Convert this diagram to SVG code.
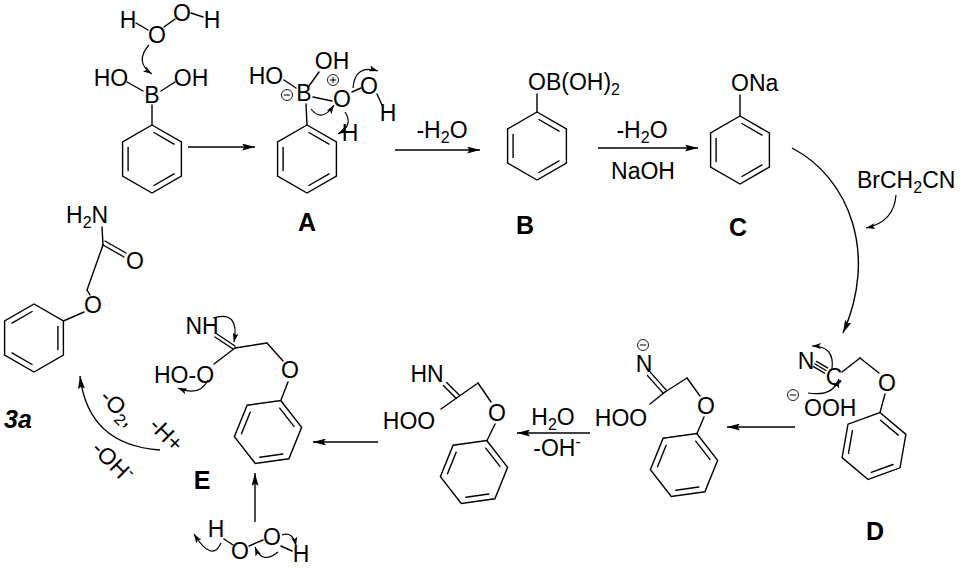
<svg xmlns="http://www.w3.org/2000/svg" xmlns:xlink="http://www.w3.org/1999/xlink" width="961" height="568" viewBox="0 0 961 568">
<style>
text{font-family:"Liberation Sans",Arial,sans-serif;fill:#000}
.a{font-size:23px;text-anchor:middle}
.s{font-size:23px}
.m{font-size:23px;text-anchor:middle}
.lb{font-size:25px;font-weight:bold;text-anchor:middle}
.b{stroke:#000;stroke-width:1.4;fill:none;stroke-linecap:round}
.ar{stroke:#000;stroke-width:1.4;fill:none;marker-end:url(#ah)}
.cr{stroke:#000;stroke-width:1.2;fill:none;marker-end:url(#ch)}
.chg{fill:#fff;stroke:#000;stroke-width:0.9}
</style>
<defs>
<marker id="ah" markerUnits="userSpaceOnUse" markerWidth="13" markerHeight="7" refX="13" refY="3.5" orient="auto" viewBox="0 0 13 7">
<path d="M0,0 L13,3.5 L0,7 L2.5,3.5 Z" fill="#000"/>
</marker>
<marker id="ch" markerUnits="userSpaceOnUse" markerWidth="9" markerHeight="6" refX="9" refY="3" orient="auto" viewBox="0 0 9 6">
<path d="M0,0 L9,3 L0,6 L2,3 Z" fill="#000"/>
</marker>
<g id="bz" class="b">
<polygon points="0,-34 29.4,-17 29.4,17 0,34 -29.4,17 -29.4,-17"/>
<line x1="1.9" y1="-26.5" x2="22" y2="-14.9"/>
<line x1="22" y1="14.9" x2="1.9" y2="26.5"/>
<line x1="-23.9" y1="11.6" x2="-23.9" y2="-11.6"/>
</g>
<g id="neg"><circle r="5.5" class="chg"/><line x1="-3.2" y1="0" x2="3.2" y2="0" stroke="#000" stroke-width="1"/></g>
<g id="pos"><circle r="5.5" class="chg"/><line x1="-3.2" y1="0" x2="3.2" y2="0" stroke="#000" stroke-width="1"/><line x1="0" y1="-3.2" x2="0" y2="3.2" stroke="#000" stroke-width="1"/></g>
</defs>

<rect width="961" height="568" fill="#fff"/>

<g id="phenylboronic">
<text class="a" x="128" y="28">H</text>
<text class="a" x="157" y="43">O</text>
<text class="a" x="182" y="21">O</text>
<text class="a" x="212" y="28">H</text>
<line class="b" x1="136" y1="23" x2="148" y2="30"/>
<line class="b" x1="164" y1="27" x2="175" y2="19"/>
<line class="b" x1="191" y1="13" x2="203" y2="17"/>
<path class="cr" d="M149,45 Q134,62 152,74"/>
<text class="a" x="111" y="86">HO</text>
<text class="a" x="152" y="103">B</text>
<text class="a" x="191" y="86">OH</text>
<line class="b" x1="127" y1="82" x2="143" y2="91"/>
<line class="b" x1="161" y1="91" x2="175" y2="82"/>
<line class="b" x1="152" y1="105" x2="152" y2="125"/>
<use xlink:href="#bz" transform="translate(152,159)"/>
</g>

<g id="A">
<text class="a" x="266" y="84">HO</text>
<text class="a" x="332" y="69">OH</text>
<text class="a" x="304" y="101">B</text>
<use xlink:href="#neg" transform="translate(287,95)"/>
<use xlink:href="#pos" transform="translate(333,80)"/>
<text class="a" x="342" y="107">O</text>
<text class="a" x="369" y="94">O</text>
<text class="a" x="388" y="121">H</text>
<text class="a" x="350" y="141">H</text>
<line class="b" x1="284" y1="80" x2="296" y2="88"/>
<line class="b" x1="309" y1="86" x2="319" y2="72"/>
<line class="b" x1="313" y1="97" x2="332" y2="101"/>
<line class="b" x1="352" y1="92" x2="361" y2="88"/>
<line class="b" x1="377" y1="94" x2="382" y2="105"/>
<line class="b" x1="306" y1="104" x2="307" y2="125"/>
<use xlink:href="#bz" transform="translate(307,159)"/>
<path class="cr" d="M311,109 Q322,123 334,105"/>
<path class="cr" d="M353,88 Q355,64 378,71"/>
<path class="cr" d="M345,112 Q354,125 338,134"/>
<text class="lb" x="307" y="231">A</text>
</g>

<g id="B">
<text class="s" x="528" y="90">OB(OH)<tspan font-size="16" dy="5">2</tspan></text>
<line class="b" x1="537" y1="94" x2="537" y2="112"/>
<use xlink:href="#bz" transform="translate(537,146)"/>
<text class="lb" x="525" y="234">B</text>
</g>

<g id="C">
<text class="s" x="731" y="91">ONa</text>
<line class="b" x1="740" y1="95" x2="740" y2="116"/>
<use xlink:href="#bz" transform="translate(740,150)"/>
<text class="lb" x="738" y="236">C</text>
</g>

<g id="D">
<text class="a" x="806" y="369">N</text>
<text class="a" x="834" y="385">C</text>
<text class="a" x="887" y="391">O</text>
<text class="s" x="804" y="416">OOH</text>
<use xlink:href="#neg" transform="translate(793,395)"/>
<line class="b" x1="815" y1="364" x2="826" y2="370.5"/>
<line class="b" x1="813.5" y1="366.6" x2="824.5" y2="373.1"/>
<line class="b" x1="816.5" y1="361.4" x2="827.5" y2="367.9"/>
<line class="b" x1="842" y1="372" x2="860" y2="358"/>
<line class="b" x1="860" y1="358" x2="879" y2="373"/>
<line class="b" x1="885" y1="394" x2="880" y2="412.5"/>
<use xlink:href="#bz" transform="translate(874,446) rotate(10)"/>
<path class="cr" d="M832,369 Q835,346 812,346"/>
<path class="cr" d="M808,393 Q833,397 839,379"/>
<text class="lb" x="875" y="540">D</text>
</g>

<g id="I2">
<use xlink:href="#neg" transform="translate(643,345)"/>
<text class="a" x="644" y="372">N</text>
<text class="a" x="706" y="414">O</text>
<text class="a" x="621" y="426">HOO</text>
<line class="b" x1="650.7" y1="372.6" x2="666.7" y2="390.6"/>
<line class="b" x1="647.3" y1="375.4" x2="663.3" y2="393.4"/>
<line class="b" x1="665" y1="392" x2="687" y2="378"/>
<line class="b" x1="687" y1="378" x2="700" y2="396"/>
<line class="b" x1="665" y1="392" x2="650" y2="404"/>
<line class="b" x1="704" y1="417" x2="697" y2="433.5"/>
<use xlink:href="#bz" transform="translate(684,465) rotate(22)"/>
</g>

<g id="I3">
<text class="a" x="427" y="382">HN</text>
<text class="a" x="497" y="421">O</text>
<text class="a" x="409" y="429">HOO</text>
<line class="b" x1="446.7" y1="382.6" x2="459.7" y2="395.6"/>
<line class="b" x1="443.3" y1="385.4" x2="456.3" y2="398.4"/>
<line class="b" x1="458" y1="397" x2="478" y2="383"/>
<line class="b" x1="478" y1="383" x2="491" y2="402"/>
<line class="b" x1="458" y1="397" x2="441" y2="409"/>
<line class="b" x1="495" y1="424" x2="487" y2="440.5"/>
<use xlink:href="#bz" transform="translate(474,472) rotate(22)"/>
</g>

<g id="E">
<text class="a" x="202" y="334">NH</text>
<text class="a" x="290" y="378">O</text>
<text class="s" x="154" y="383">HO-O</text>
<line class="b" x1="217" y1="334" x2="235" y2="346"/>
<line class="b" x1="215" y1="337" x2="233" y2="349"/>
<line class="b" x1="235" y1="348" x2="267" y2="343"/>
<line class="b" x1="267" y1="343" x2="283" y2="361"/>
<line class="b" x1="235" y1="348" x2="214" y2="364"/>
<line class="b" x1="288" y1="382" x2="281" y2="400"/>
<use xlink:href="#bz" transform="translate(268,432) rotate(22)"/>
<path class="cr" d="M213,318 Q240,310 234,342"/>
<path class="cr" d="M208,380 Q200,397 178,388"/>
<text class="lb" x="202" y="489">E</text>
</g>

<g id="H2O2b">
<text class="a" x="216" y="537">H</text>
<text class="a" x="240" y="559">O</text>
<text class="a" x="272" y="545">O</text>
<text class="a" x="301" y="562">H</text>
<line class="b" x1="224" y1="539" x2="233" y2="545"/>
<line class="b" x1="249" y1="546" x2="263" y2="540"/>
<line class="b" x1="281" y1="546" x2="292" y2="551"/>
<path class="cr" d="M221,543 Q212,563 194,534"/>
<path class="cr" d="M278,552 Q262,565 255,547"/>
<path class="cr" d="M282,535 Q293,531 296,546"/>
</g>

<g id="P3a">
<text class="s" x="66" y="223">H<tspan font-size="16" dy="5">2</tspan><tspan dy="-5">N</tspan></text>
<text class="a" x="135" y="269">O</text>
<text class="a" x="93" y="313">O</text>
<line class="b" x1="102" y1="227" x2="103" y2="245"/>
<line class="b" x1="103" y1="245" x2="124" y2="257"/>
<line class="b" x1="105" y1="241" x2="126" y2="253"/>
<line class="b" x1="103" y1="245" x2="87" y2="290"/>
<line class="b" x1="87" y1="290" x2="90" y2="295"/>
<line class="b" x1="84" y1="312" x2="63.4" y2="321"/>
<use xlink:href="#bz" transform="translate(34,338) scale(-1,1)"/>
<text x="4" y="428" font-size="25" font-weight="bold" font-style="italic">3a</text>
</g>

<g id="connectors">
<line class="ar" x1="188" y1="147" x2="255" y2="147"/>
<line class="ar" x1="395" y1="150" x2="480" y2="150"/>
<text class="m" x="442" y="138">-H<tspan font-size="16" dy="5">2</tspan><tspan dy="-5">O</tspan></text>
<line class="ar" x1="598" y1="148" x2="698" y2="148"/>
<text class="m" x="642" y="138">-H<tspan font-size="16" dy="5">2</tspan><tspan dy="-5">O</tspan></text>
<text class="m" x="643" y="179">NaOH</text>
<path class="ar" d="M792,148 C850,178 878,255 843,333"/>
<text class="s" x="857" y="188">BrCH<tspan font-size="16" dy="5">2</tspan><tspan dy="-5">CN</tspan></text>
<path class="cr" d="M896,195 Q894,222 866,228"/>
<line class="ar" x1="795" y1="427" x2="727" y2="427"/>
<line class="ar" x1="590" y1="433" x2="517" y2="433"/>
<text class="m" x="553" y="425">H<tspan font-size="16" dy="5">2</tspan><tspan dy="-5">O</tspan></text>
<text class="m" x="557" y="456">-OH<tspan font-size="16" dy="-9">-</tspan></text>
<line class="ar" x1="378" y1="442" x2="313" y2="442"/>
<line class="ar" x1="255" y1="522" x2="255" y2="473"/>
<path class="ar" d="M160,450 Q88,445 80,376"/>
<text class="m" transform="translate(113,413) rotate(45)">-O<tspan font-size="16" dy="5">2</tspan><tspan dy="-5">,</tspan></text>
<text class="m" transform="translate(161,440) rotate(45)">-H+</text>
<text class="m" transform="translate(107,467) rotate(45)">-OH<tspan font-size="16" dy="-9">-</tspan></text>
</g>
</svg>
